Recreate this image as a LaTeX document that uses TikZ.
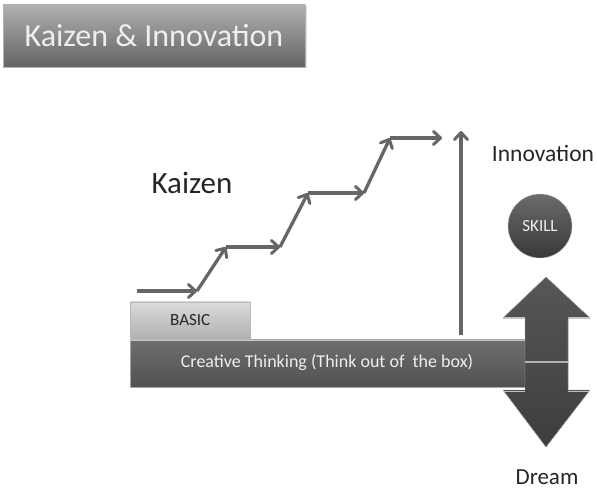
\documentclass[tikz,border=0pt]{standalone}
\usepackage{fontspec}
\setmainfont{Carlito}
\usetikzlibrary{arrows.meta,shadows}
\definecolor{stairgray}{HTML}{666666}
\definecolor{bargray}{HTML}{555555}
\definecolor{lighttext}{HTML}{EFEFEF}
\tikzset{
  stair/.style={draw=stairgray, line width=3.3pt, line join=round,
    -{Straight Barb[length=7pt,width=13pt,line width=3pt,round]}},
  titlebox/.style={rectangle, minimum width=302pt, minimum height=62pt, top color=gray!62, bottom color=gray!78!black,
    draw=gray!60, line width=0.4pt, drop shadow={opacity=0.25,shadow xshift=1.5pt,shadow yshift=-1.5pt}},
  basicbox/.style={rectangle, minimum width=120pt, minimum height=37pt, top color=gray!28, bottom color=gray!62,
    draw=gray!55, line width=0.4pt},
  barbox/.style={rectangle, minimum width=395pt, minimum height=48pt, top color=bargray!85, bottom color=bargray!95!black,
    draw=gray!70, line width=0.5pt},
  label/.style={inner sep=0pt, text=black!85},
}
\begin{document}
\begin{tikzpicture}[x=1pt,y=-1pt]
\useasboundingbox (0,0) rectangle (597,489);

% title
\node[titlebox] (title) at (154,36) {};
\node[inner sep=0pt, text=lighttext, font=\fontsize{32}{32}\selectfont] (titletext) at (title.center) {Kaizen \& Innovation};

% labels
\node[label, font=\fontsize{31}{31}\selectfont] (kaizen) at (192,183) {Kaizen};
\node[label, font=\fontsize{23.5}{23.5}\selectfont] (innov) at (543,153) {Innovation};
\node[label, font=\fontsize{23}{23}\selectfont] (dream) at (547,477) {Dream};

% staircase of small improvements
\coordinate (s0) at (137,291);
\coordinate (s1) at (197,291);
\coordinate (s2) at (226,247);
\coordinate (s3) at (280,247);
\coordinate (s4) at (308,193);
\coordinate (s5) at (364,193);
\coordinate (s6) at (390,138);
\coordinate (s7) at (442,138);
\draw[stair] (s0) -- (s1);
\draw[stair] (s1) -- (s2);
\draw[stair] (s2) -- (s3);
\draw[stair] (s3) -- (s4);
\draw[stair] (s4) -- (s5);
\draw[stair] (s5) -- (s6);
\draw[stair] (s6) -- (s7);

% foundation bar and basic block
\node[barbox, anchor=north west] (bar) at (130,339) {};
\node[basicbox, anchor=south west] (basic) at (130,339) {};
\node[inner sep=0pt, text=black!85, font=\fontsize{17}{17}\selectfont] (basictext) at (basic.center) {BASIC};
\node[inner sep=0pt, text=lighttext, font=\fontsize{18}{18}\selectfont] (bartext) at (327,362) {Creative Thinking (Think out of\ \ the box)};
\draw[gray!45, line width=1pt] ([yshift=-1pt]bar.north west) -- ([yshift=-1pt]bar.north east);

% innovation leap
\coordinate (leapbase) at (461,335);
\coordinate (leaptop) at (461,131);
\draw[stair] (leapbase) -- (leaptop);

% skill / dream double arrow
\fill[top color=black!66, bottom color=black!76, draw=gray!60, line width=0.4pt]
  (546,277) -- (590,318) -- (568,318) -- (568,390) -- (590,390) -- (546,447)
  -- (503,390) -- (525,390) -- (525,318) -- (503,318) -- cycle;
\draw[gray!60, line width=1.2pt] (525,362) -- (568,362);
\draw[gray!50, line width=0.8pt] (504,317) -- (525,317) (568,317) -- (589,317);
\draw[gray!50, line width=0.8pt] (504,391) -- (525,391) (568,391) -- (589,391);

% skill ball
\node[circle, minimum size=64pt, inner sep=0pt, top color=black!58, bottom color=black!78, draw=gray!55, line width=0.4pt] (skill) at (540,226) {};
\node[inner sep=0pt, text=lighttext, font=\fontsize{17}{17}\selectfont] (skilltext) at (skill.center) {SKILL};
\end{tikzpicture}
\end{document}
